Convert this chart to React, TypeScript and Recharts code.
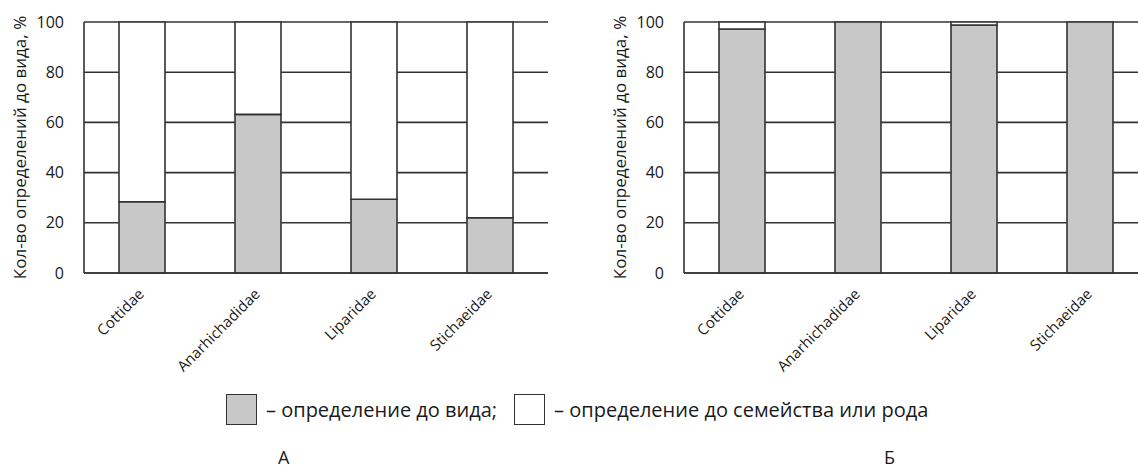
import { BarChart, Bar, XAxis, YAxis, CartesianGrid } from "recharts";

const families = ["Cottidae", "Anarhichadidae", "Liparidae", "Stichaeidae"];
const speciesA = [28.4, 63.2, 29.4, 22];
const speciesB = [97.2, 100, 98.8, 100];
const yTicks = [0, 20, 40, 60, 80, 100];
const seriesNames = ["определение до вида", "определение до семейства или рода"];
const panelNames = ["А", "Б"];

const FONT = "'Open Sans', sans-serif";
const INK = "#333333";
const GRAY = "#c8c8c8";
const TEXT = "#1a1a1a";

const buildRows = (species: number[]) =>
  families.map((name, i) => ({
    name,
    species: species[i],
    genus: +(100 - species[i]).toFixed(1),
  }));

const CategoryTick = (props: any) => {
  const { x, y, payload } = props;
  return (
    <g transform={`translate(${x + 3},${y + 14})`}>
      <text
        transform="rotate(-45)"
        textAnchor="end"
        fontSize={15}
        fontFamily={FONT}
        fill={TEXT}
      >
        {payload.value}
      </text>
    </g>
  );
};

function Panel({ species, width }: { species: number[]; width: number }) {
  const data = buildRows(species);
  return (
    <BarChart
      width={width}
      height={380}
      data={data}
      margin={{ top: 22, right: width - 84 - 464, bottom: 0, left: 0 }}
      barCategoryGap={70}
    >
      <CartesianGrid vertical={false} stroke={INK} strokeWidth={1.6} />
      <XAxis
        dataKey="name"
        interval={0}
        height={107}
        tickLine={false}
        axisLine={{ stroke: INK, strokeWidth: 1.6 }}
        tick={<CategoryTick />}
      />
      <YAxis
        width={84}
        domain={[0, 100]}
        ticks={yTicks}
        tickLine={false}
        axisLine={{ stroke: INK, strokeWidth: 1.6 }}
        tickMargin={14}
        tick={{ fill: TEXT, fontSize: 16, fontFamily: FONT }}
        label={{
          value: "Кол-во определений до вида, %",
          angle: -90,
          position: "center",
          dx: -22,
          fill: TEXT,
          fontSize: 17,
          fontFamily: FONT,
        }}
      />
      <Bar
        dataKey="species"
        stackId="s"
        barSize={46}
        fill={GRAY}
        stroke={INK}
        strokeWidth={1.6}
        isAnimationActive={false}
      />
      <Bar
        dataKey="genus"
        stackId="s"
        barSize={46}
        fill="#ffffff"
        stroke={INK}
        strokeWidth={1.6}
        isAnimationActive={false}
      />
    </BarChart>
  );
}

const swatch = (fill: string) => ({
  display: "inline-block",
  width: 29,
  height: 29,
  background: fill,
  border: `1.6px solid ${INK}`,
  verticalAlign: "middle",
  marginRight: 9,
});

export default function App() {
  return (
    <div
      style={{
        position: "absolute",
        left: 0,
        top: 0,
        width: 1138,
        height: 470,
        overflow: "hidden",
        background: "#fff",
        fontFamily: FONT,
        color: TEXT,
      }}
    >
      <div style={{ position: "absolute", left: 0, top: 0 }}>
        <Panel species={speciesA} width={560} />
      </div>
      <div style={{ position: "absolute", left: 600, top: 0 }}>
        <Panel species={speciesB} width={600} />
      </div>
      <div
        style={{
          position: "absolute",
          left: 226,
          top: 392,
          fontSize: 20,
          whiteSpace: "nowrap",
          lineHeight: "32px",
        }}
      >
        <span style={swatch(GRAY)} />
        <span style={{ verticalAlign: "middle", marginRight: 17 }}>
          – {seriesNames[0]};
        </span>
        <span style={swatch("#ffffff")} />
        <span style={{ verticalAlign: "middle" }}>– {seriesNames[1]}</span>
      </div>
      <div
        style={{ position: "absolute", left: 278, top: 448, fontSize: 18, lineHeight: "18px" }}
      >
        {panelNames[0]}
      </div>
      <div
        style={{ position: "absolute", left: 884, top: 448, fontSize: 18, lineHeight: "18px" }}
      >
        {panelNames[1]}
      </div>
    </div>
  );
}
